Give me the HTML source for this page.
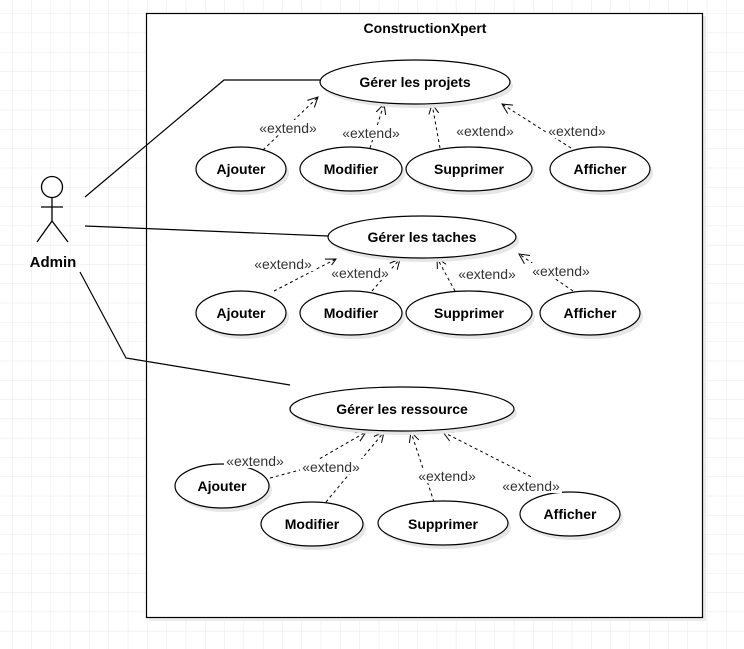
<!DOCTYPE html>
<html><head><meta charset="utf-8"><style>
html,body{margin:0;padding:0;background:#fff}
svg{display:block}
text{font-family:"Liberation Sans",Arial,sans-serif}
.b{font-weight:bold;font-size:14px;fill:#000}
.e{font-size:14px;fill:#333}
</style></head><body>
<svg width="744" height="649" viewBox="0 0 744 649" xmlns="http://www.w3.org/2000/svg">
<defs>
<pattern id="g" x="12" y="13.3" width="19.3" height="19.3" patternUnits="userSpaceOnUse">
<path d="M0 0H19.3M0 0V19.3" stroke="#e8e8e8" stroke-width="1" fill="none"/>
</pattern>
<marker id="a" markerWidth="12" markerHeight="12" refX="10" refY="6" orient="auto" markerUnits="userSpaceOnUse">
<path d="M0 1 L10 6 L0 11" fill="none" stroke="#000" stroke-width="1"/>
</marker>
</defs>
<rect width="744" height="649" fill="url(#g)"/>
<rect x="149" y="16" width="557" height="605" fill="#ececec"/>
<rect x="146.5" y="13.5" width="556" height="604" fill="#fff" stroke="#000" stroke-width="1.2"/>
<text x="425" y="33" text-anchor="middle" class="b">ConstructionXpert</text>

<g stroke="#000" stroke-width="1.3" fill="#fff">
<circle cx="52" cy="187" r="10.5"/>
<path d="M52 198V221M41 207H63M52 221L37 242M52 221L68 242" fill="none"/>
</g>
<text x="53" y="267" text-anchor="middle" class="b" style="font-size:15px">Admin</text>

<g stroke="#000" stroke-width="1.2" fill="none">
<path d="M85 197L224 80H320"/>
<path d="M85 226L328 236"/>
<path d="M80 272L126 358L290 385"/>
</g>

<g stroke="#000" stroke-width="1" fill="none" stroke-dasharray="3,3" marker-end="url(#a)">
<path d="M263 150L318 97"/>
<path d="M370 148L384 104"/>
<path d="M440 148L432 104"/>
<path d="M571 148L502 104"/>
<path d="M274 291L336 259"/>
<path d="M372 291L400 259"/>
<path d="M455 291L437 258"/>
<path d="M573 291L519 254"/>
<path d="M270 478L300 470L366 432"/>
<path d="M326 502L384 432"/>
<path d="M434 502L411 432"/>
<path d="M563 493L443 432"/>
</g>

<g fill="#e6e6e6" stroke="none">
<ellipse cx="418" cy="86" rx="95" ry="22"/>
<ellipse cx="244" cy="173" rx="45" ry="22"/>
<ellipse cx="354" cy="173" rx="51" ry="22"/>
<ellipse cx="472" cy="173" rx="63" ry="22"/>
<ellipse cx="603" cy="173" rx="50" ry="22"/>
<ellipse cx="425" cy="241" rx="94" ry="21"/>
<ellipse cx="244" cy="317" rx="45" ry="22"/>
<ellipse cx="354" cy="317" rx="51" ry="22"/>
<ellipse cx="472" cy="317" rx="63" ry="22"/>
<ellipse cx="593" cy="317" rx="50" ry="22"/>
<ellipse cx="405" cy="413" rx="112" ry="22"/>
<ellipse cx="225" cy="490" rx="47" ry="22"/>
<ellipse cx="315" cy="528" rx="51" ry="22"/>
<ellipse cx="446" cy="527" rx="65" ry="22"/>
<ellipse cx="573" cy="518" rx="50" ry="22"/>
</g>
<g fill="#fff" stroke="#000" stroke-width="1.2">
<ellipse cx="415" cy="82" rx="95" ry="22"/>
<ellipse cx="241" cy="169" rx="45" ry="22"/>
<ellipse cx="351" cy="169" rx="51" ry="22"/>
<ellipse cx="469" cy="169" rx="63" ry="22"/>
<ellipse cx="600" cy="169" rx="50" ry="22"/>
<ellipse cx="422" cy="237" rx="94" ry="21"/>
<ellipse cx="241" cy="313" rx="45" ry="22"/>
<ellipse cx="351" cy="313" rx="51" ry="22"/>
<ellipse cx="469" cy="313" rx="63" ry="22"/>
<ellipse cx="590" cy="313" rx="50" ry="22"/>
<ellipse cx="402" cy="409" rx="112" ry="22"/>
<ellipse cx="222" cy="486" rx="47" ry="22"/>
<ellipse cx="312" cy="524" rx="51" ry="22"/>
<ellipse cx="443" cy="523" rx="65" ry="22"/>
<ellipse cx="570" cy="514" rx="50" ry="22"/>
</g>
<g text-anchor="middle">
<text x="415" y="87" class="b">Gérer les projets</text>
<text x="241" y="174" class="b">Ajouter</text>
<text x="351" y="174" class="b">Modifier</text>
<text x="469" y="174" class="b">Supprimer</text>
<text x="600" y="174" class="b">Afficher</text>
<text x="422" y="242" class="b">Gérer les taches</text>
<text x="241" y="318" class="b">Ajouter</text>
<text x="351" y="318" class="b">Modifier</text>
<text x="469" y="318" class="b">Supprimer</text>
<text x="590" y="318" class="b">Afficher</text>
<text x="402" y="414" class="b">Gérer les ressource</text>
<text x="222" y="491" class="b">Ajouter</text>
<text x="312" y="529" class="b">Modifier</text>
<text x="443" y="529" class="b">Supprimer</text>
<text x="570" y="519" class="b">Afficher</text>
</g>

<g text-anchor="middle">
<g fill="#fff">
<rect x="257" y="120" width="62" height="15"/>
<rect x="340" y="125" width="62" height="15"/>
<rect x="454" y="123" width="62" height="15"/>
<rect x="546" y="123" width="62" height="15"/>
<rect x="252" y="256" width="62" height="15"/>
<rect x="329" y="265" width="62" height="15"/>
<rect x="456" y="266" width="62" height="15"/>
<rect x="530" y="263" width="62" height="15"/>
<rect x="224" y="453" width="62" height="15"/>
<rect x="300" y="459" width="62" height="15"/>
<rect x="416" y="468" width="62" height="15"/>
<rect x="500" y="478" width="62" height="15"/>
</g>
<text x="288" y="133" class="e">«extend»</text>
<text x="371" y="138" class="e">«extend»</text>
<text x="485" y="136" class="e">«extend»</text>
<text x="577" y="136" class="e">«extend»</text>
<text x="283" y="269" class="e">«extend»</text>
<text x="360" y="278" class="e">«extend»</text>
<text x="487" y="279" class="e">«extend»</text>
<text x="561" y="276" class="e">«extend»</text>
<text x="255" y="466" class="e">«extend»</text>
<text x="331" y="472" class="e">«extend»</text>
<text x="447" y="481" class="e">«extend»</text>
<text x="531" y="491" class="e">«extend»</text>
</g>
</svg>
</body></html>
